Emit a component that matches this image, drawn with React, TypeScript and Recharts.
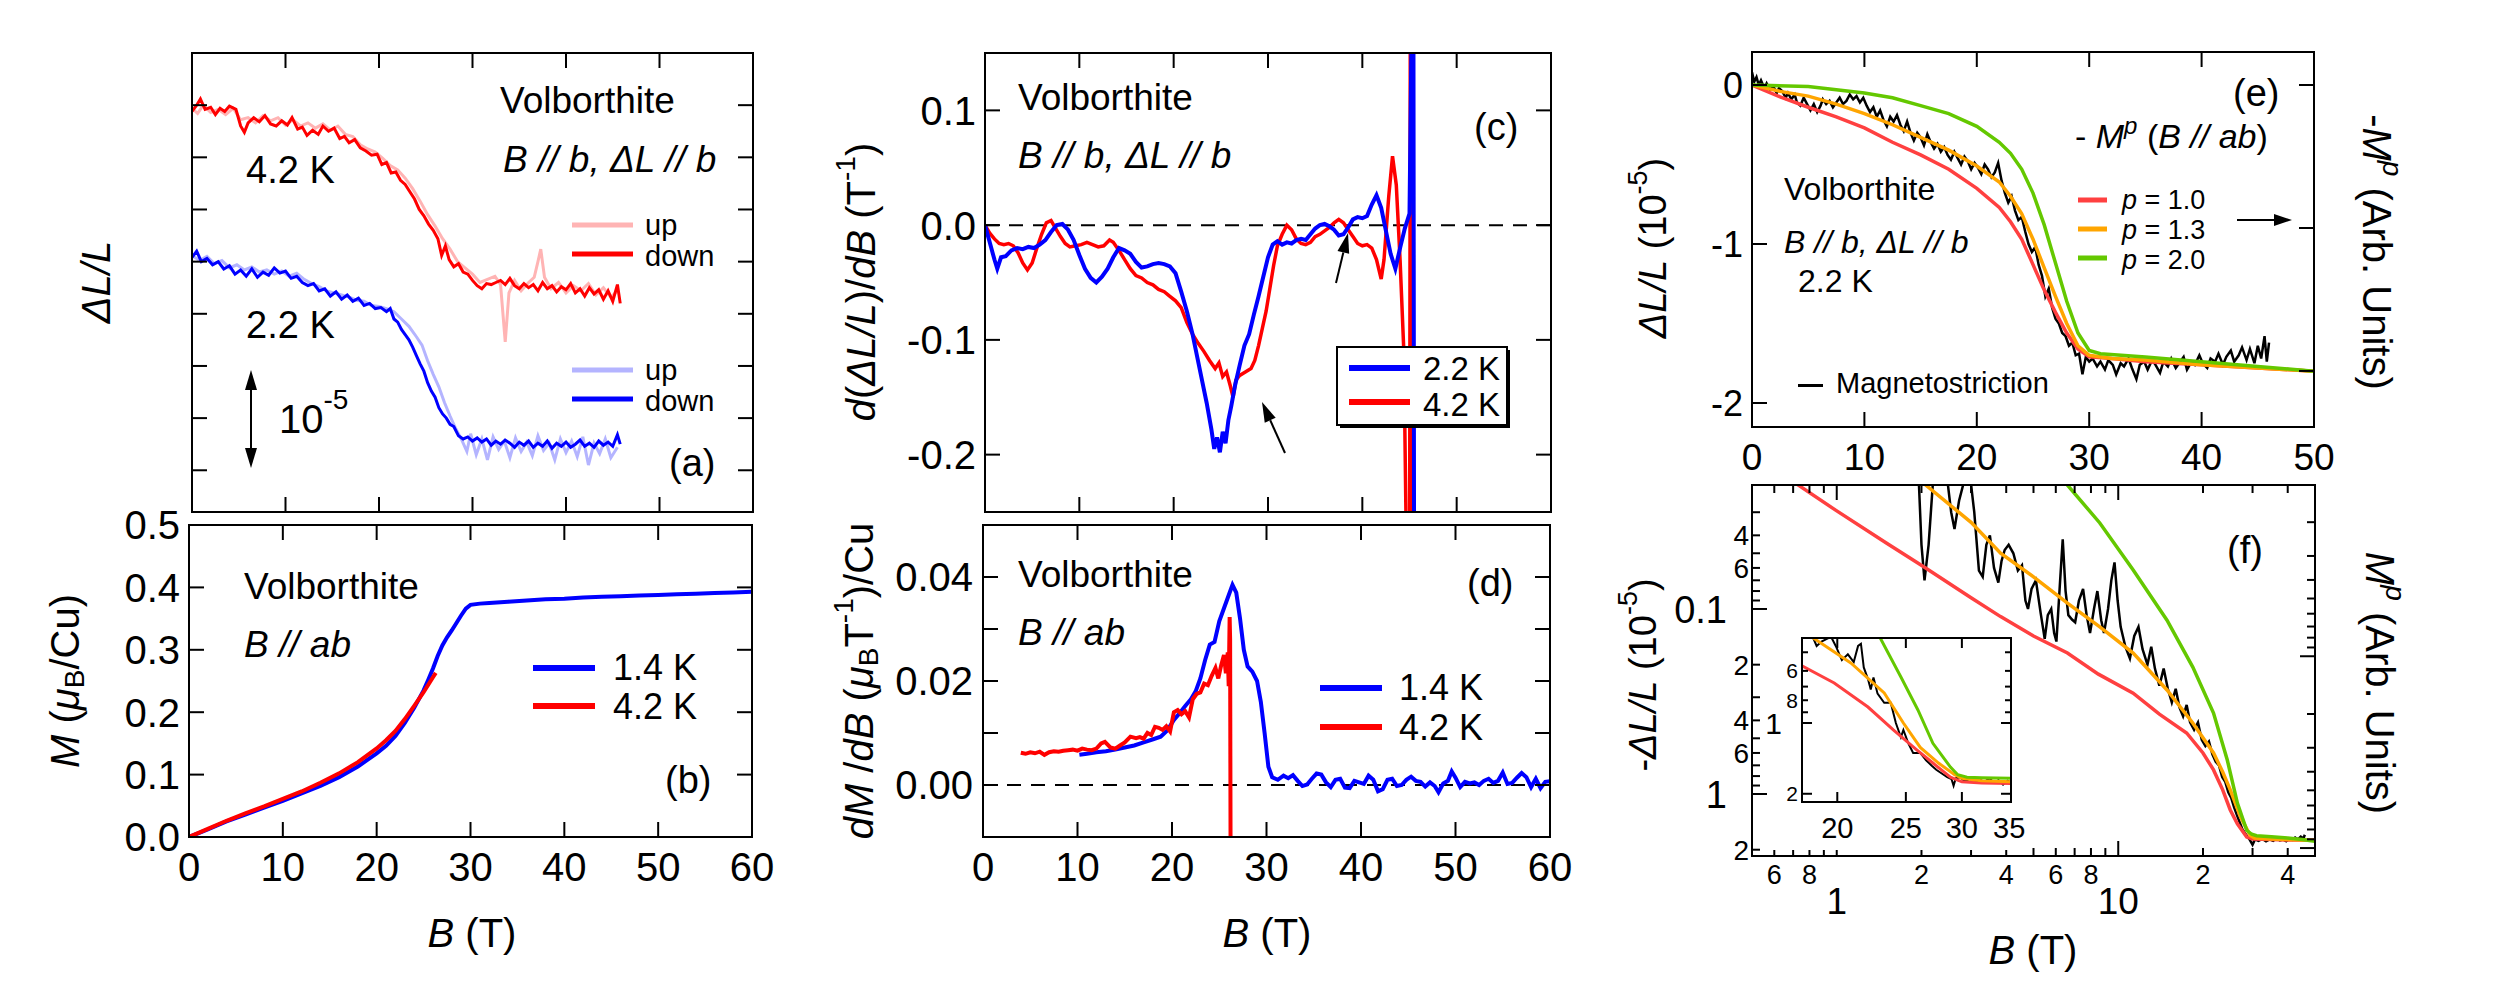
import React from 'react';
import { LineChart, Line, XAxis, YAxis, ReferenceLine } from 'recharts';

const FONT = '"Liberation Sans", Arial, Helvetica, sans-serif';

const RED = '#ff0000';
const BLUE = '#0000ff';
const LRED = '#ffb4b4';
const LBLUE = '#b4b4ff';
const FRED = '#ff4040';
const ORANGE = '#ffa500';
const GREEN = '#64c800';

// ---------- (a) magnetostriction, B // b, offset curves (units of 1e-5) ----------
const aRedUp = [[0,3.47],[0.6,3.42],[1.2,3.5],[2,3.43],[2.8,3.46],[3.6,3.41],[4.4,3.47],[5.2,3.36],[6,3.38],[6.8,3.33],[7.6,3.4],[8.4,3.35],[9.2,3.38],[10,3.31],[10.8,3.36],[11.6,3.3],[12.4,3.33],[13.2,3.28],[14,3.32],[14.8,3.26],[15.6,3.3],[16.4,3.22],[17.2,3.2],[18,3.12],[18.8,3.08],[19.6,3.05],[20.4,2.99],[21.2,2.92],[22,2.88],[22.8,2.8],[23.6,2.7],[24.4,2.58],[25.2,2.45],[26,2.34],[26.8,2.22],[27.6,2.12],[28.4,2.0],[29.2,1.94],[30,1.88],[30.8,1.8],[31.6,1.83],[32.4,1.86],[33,1.78],[33.5,1.23],[33.9,1.7],[34.5,1.82],[35.2,1.72],[36,1.8],[36.6,1.85],[37,2.0],[37.3,2.12],[37.7,1.85],[38.4,1.74],[39.2,1.8],[40,1.7],[40.8,1.77],[41.6,1.72],[42.4,1.79],[43.2,1.68],[44,1.75],[44.8,1.66],[45.5,1.72]];
const aRedDown = [[0,3.44],[0.5,3.5],[0.9,3.56],[1.4,3.46],[2,3.48],[2.5,3.41],[3,3.47],[3.5,3.44],[4,3.49],[4.7,3.46],[5.2,3.3],[5.6,3.24],[6,3.33],[6.6,3.38],[7.2,3.34],[7.8,3.4],[8.4,3.32],[9,3.3],[9.6,3.35],[10.2,3.31],[10.7,3.38],[11.3,3.27],[11.8,3.29],[12.3,3.21],[12.9,3.26],[13.5,3.22],[14,3.3],[14.6,3.25],[15.2,3.28],[15.8,3.18],[16.3,3.2],[16.8,3.14],[17.4,3.17],[18,3.09],[18.6,3.06],[19.2,3.02],[19.8,3.03],[20.3,2.93],[20.8,2.95],[21.3,2.85],[21.8,2.86],[22.3,2.78],[22.8,2.74],[23.3,2.67],[23.8,2.6],[24.3,2.5],[24.8,2.44],[25.3,2.36],[25.8,2.3],[26.3,2.22],[26.7,2.06],[27.1,2.15],[27.5,2.02],[28,1.95],[28.5,1.98],[29,1.9],[29.5,1.88],[30,1.82],[30.5,1.77],[31,1.74],[31.5,1.79],[32,1.78],[32.5,1.8],[33,1.82],[33.5,1.78],[34,1.84],[34.5,1.77],[35,1.74],[35.5,1.79],[36,1.75],[36.5,1.78],[37,1.72],[37.5,1.8],[38,1.74],[38.5,1.77],[39,1.71],[39.5,1.76],[40,1.73],[40.5,1.79],[41,1.7],[41.5,1.74],[42,1.67],[42.5,1.75],[43,1.69],[43.5,1.73],[44,1.64],[44.5,1.72],[45,1.62],[45.5,1.78],[45.8,1.6]];
const aBlueUp = [[0,2.06],[0.8,2.01],[1.6,2.05],[2.4,1.98],[3.2,2.01],[4,1.94],[4.8,1.97],[5.6,1.92],[6.4,1.95],[7.2,1.9],[8,1.92],[8.8,1.88],[9.6,1.91],[10.4,1.86],[11.2,1.89],[12,1.83],[12.8,1.79],[13.6,1.76],[14.4,1.72],[15.2,1.7],[16,1.68],[16.8,1.66],[17.6,1.63],[18.4,1.62],[19.2,1.58],[20,1.57],[20.8,1.55],[21.6,1.52],[22.4,1.45],[23.2,1.38],[24,1.28],[24.6,1.2],[25.2,1.05],[25.8,0.92],[26.4,0.8],[27,0.65],[27.6,0.52],[28.2,0.4],[28.8,0.3],[29.4,0.18],[29.8,0.35],[30.4,0.15],[31,0.3],[31.6,0.1],[32.2,0.32],[32.8,0.2],[33.4,0.28],[34,0.12],[34.6,0.31],[35.2,0.18],[35.8,0.27],[36.4,0.14],[37,0.33],[37.6,0.19],[38.2,0.26],[38.8,0.1],[39.4,0.3],[40,0.17],[40.6,0.28],[41.2,0.13],[41.8,0.32],[42.4,0.05],[43,0.26],[43.6,0.16],[44.2,0.3],[44.8,0.12],[45.5,0.22]];
const aBlueDown = [[0,2.04],[0.5,2.1],[1,2.0],[1.6,2.03],[2.2,1.97],[2.8,2.0],[3.4,1.93],[4,1.96],[4.6,1.88],[5.2,1.92],[5.8,1.86],[6.4,1.93],[7,1.85],[7.6,1.9],[8.2,1.87],[8.8,1.94],[9.4,1.89],[10,1.91],[10.6,1.84],[11.2,1.86],[11.8,1.8],[12.4,1.77],[13,1.79],[13.6,1.72],[14.2,1.74],[14.8,1.67],[15.4,1.71],[16,1.64],[16.6,1.68],[17.2,1.62],[17.8,1.65],[18.4,1.58],[19,1.6],[19.6,1.55],[20.2,1.56],[20.8,1.52],[21.2,1.55],[21.6,1.45],[22,1.42],[22.4,1.35],[22.8,1.3],[23.2,1.25],[23.6,1.18],[24,1.1],[24.4,1.02],[24.8,0.95],[25.2,0.84],[25.6,0.76],[26,0.7],[26.4,0.6],[26.8,0.54],[27.2,0.5],[27.6,0.44],[28,0.42],[28.5,0.33],[29,0.3],[29.5,0.32],[30,0.28],[30.5,0.31],[31,0.27],[31.5,0.3],[32,0.24],[32.5,0.28],[33,0.25],[33.5,0.29],[34,0.26],[34.5,0.22],[35,0.27],[35.5,0.24],[36,0.28],[36.5,0.22],[37,0.26],[37.5,0.23],[38,0.28],[38.5,0.21],[39,0.26],[39.5,0.23],[40,0.27],[40.5,0.22],[41,0.25],[41.5,0.29],[42,0.23],[42.5,0.26],[43,0.22],[43.5,0.28],[44,0.24],[44.5,0.27],[45,0.23],[45.5,0.34],[45.8,0.25]];

// ---------- (b) magnetization M (muB/Cu), B // ab ----------
const bBlue = [[0,0],[2,0.012],[4,0.025],[6,0.036],[8,0.047],[10,0.058],[12,0.07],[14,0.082],[16,0.096],[18,0.113],[20,0.134],[21,0.146],[22,0.162],[23,0.183],[24,0.207],[25,0.235],[25.5,0.252],[26,0.27],[26.5,0.29],[27,0.307],[27.5,0.32],[28,0.331],[28.5,0.343],[29,0.355],[29.5,0.366],[30,0.372],[31,0.374],[32,0.375],[34,0.377],[36,0.379],[38,0.381],[40,0.382],[42,0.384],[44,0.385],[46,0.386],[48,0.387],[50,0.388],[52,0.389],[54,0.39],[56,0.391],[58,0.392],[60,0.393]];
const bRed = [[0,0],[2,0.013],[4,0.026],[6,0.038],[8,0.049],[10,0.061],[12,0.073],[14,0.087],[16,0.102],[18,0.12],[20,0.142],[21,0.155],[22,0.17],[23,0.189],[24,0.21],[25,0.232],[25.5,0.244],[26,0.256],[26.3,0.263]];

// ---------- (c) d(dL/L)/dB (1/T) ----------
const cRed = [[0,0],[0.5,-0.007],[1,-0.012],[1.5,-0.016],[2,-0.017],[2.5,-0.016],[3,-0.018],[3.5,-0.024],[4,-0.033],[4.5,-0.039],[5,-0.033],[5.5,-0.02],[6,-0.008],[6.5,0.002],[7,0.004],[7.5,-0.003],[8,-0.01],[8.5,-0.016],[9,-0.019],[9.6,-0.018],[10.2,-0.017],[10.8,-0.015],[11.4,-0.017],[12,-0.019],[12.6,-0.018],[13.2,-0.013],[13.6,-0.015],[14.2,-0.022],[14.8,-0.03],[15.4,-0.038],[16,-0.044],[16.6,-0.046],[17.2,-0.05],[17.8,-0.052],[18.4,-0.056],[19,-0.058],[19.6,-0.062],[20.2,-0.066],[20.8,-0.072],[21.4,-0.085],[22,-0.095],[22.6,-0.103],[23.2,-0.11],[23.8,-0.118],[24.4,-0.125],[24.8,-0.12],[25.2,-0.132],[25.6,-0.128],[26,-0.14],[26.3,-0.15],[26.6,-0.135],[27,-0.131],[27.6,-0.128],[28.2,-0.125],[28.6,-0.118],[29,-0.105],[29.4,-0.09],[29.8,-0.075],[30.2,-0.055],[30.6,-0.035],[31,-0.018],[31.5,-0.008],[32,0],[32.5,-0.004],[33,-0.012],[33.5,-0.016],[34,-0.017],[34.5,-0.015],[35,-0.01],[35.5,-0.008],[36,-0.005],[36.5,-0.002],[37,0.002],[37.5,0.005],[38,0.002],[38.5,-0.004],[39,-0.01],[39.5,-0.016],[40,-0.018],[40.5,-0.017],[41,-0.02],[41.5,-0.03],[42,-0.047],[42.3,-0.03],[42.8,0.025],[43.2,0.06],[43.6,0.035],[44,-0.03],[44.4,-0.11],[44.7,-0.3],[45,-0.4],[45.1,0.3],[45.2,-0.4]];
const cBlue = [[0,0],[0.5,-0.015],[1,-0.03],[1.3,-0.038],[1.7,-0.028],[2.2,-0.027],[2.8,-0.022],[3.4,-0.02],[4,-0.021],[4.6,-0.019],[5.2,-0.02],[5.8,-0.017],[6.4,-0.013],[7,-0.006],[7.6,0],[8.2,0.001],[8.8,-0.004],[9.4,-0.013],[10,-0.026],[10.6,-0.038],[11.2,-0.046],[11.8,-0.05],[12.4,-0.045],[13,-0.038],[13.6,-0.028],[14.2,-0.02],[14.8,-0.022],[15.4,-0.025],[16,-0.032],[16.6,-0.037],[17.2,-0.036],[17.8,-0.034],[18.4,-0.033],[19,-0.034],[19.6,-0.036],[20.2,-0.042],[20.8,-0.058],[21.4,-0.075],[22,-0.095],[22.5,-0.115],[23,-0.135],[23.5,-0.155],[24,-0.178],[24.3,-0.195],[24.6,-0.185],[24.9,-0.198],[25.2,-0.18],[25.5,-0.19],[25.8,-0.17],[26.1,-0.158],[26.5,-0.14],[27,-0.122],[27.5,-0.105],[28,-0.095],[28.5,-0.078],[29,-0.062],[29.5,-0.045],[30,-0.028],[30.5,-0.017],[31,-0.014],[31.5,-0.017],[32,-0.015],[32.5,-0.016],[33,-0.013],[33.5,-0.012],[34,-0.013],[34.5,-0.008],[35,-0.003],[35.5,0],[36,0.001],[36.5,-0.001],[37,-0.004],[37.5,-0.009],[38,-0.008],[38.5,-0.002],[39,0.005],[39.5,0.007],[40,0.006],[40.5,0.008],[41,0.018],[41.5,0.026],[42,0.015],[42.5,-0.005],[43,-0.025],[43.5,-0.038],[44,-0.02],[44.5,-0.003],[45,0.01],[45.4,0.3],[45.5,-0.4]];

// ---------- (d) dM/dB ----------
const dBlue = [[10.2,0.0058],[11,0.006],[12,0.0063],[13,0.0065],[14,0.0068],[15,0.0072],[16,0.0076],[17,0.0082],[18,0.0088],[18.8,0.0093],[19.5,0.0105],[20.2,0.0125],[20.8,0.0138],[21.4,0.0152],[22,0.0165],[22.5,0.018],[23,0.0205],[23.5,0.024],[24,0.027],[24.5,0.0275],[25,0.0315],[25.5,0.034],[26,0.0365],[26.4,0.0385],[26.8,0.037],[27.2,0.032],[27.6,0.026],[28,0.0228],[28.5,0.0218],[29,0.02],[29.4,0.016],[29.8,0.01],[30.2,0.0035],[30.6,0.0015],[31.2,0.001],[31.8,0.0018],[32.3,0.0013],[32.8,0.0019],[33.3,0.0008],[33.8,-0.0002],[34.3,0.0001],[34.8,0.0012],[35.3,0.0022],[35.8,0.002],[36.3,0.0005],[36.8,-0.0004],[37.3,0.001],[37.8,0.0012],[38.3,-0.0005],[38.8,-0.0006],[39.3,0.0008],[39.8,0.0005],[40.3,0.0002],[40.8,0.0018],[41.3,0.001],[41.8,-0.0012],[42.3,-0.0008],[42.8,0.001],[43.3,0.0012],[43.8,-0.0002],[44.3,0],[44.8,0.001],[45.3,0.0016],[45.8,0.0008],[46.3,0.0006],[46.8,-0.0003],[47.3,0.0005],[47.8,-0.0002],[48.2,-0.0014],[48.7,0.0003],[49.2,0.0008],[49.6,0.0026],[50,0.0014],[50.5,-0.0004],[51,0.0006],[51.5,0.0003],[52,0.0005],[52.5,0],[53,0.0008],[53.5,0.0012],[54,0.0004],[54.5,0.0008],[55,0.0024],[55.5,0.0002],[56,0.0004],[56.5,0.0014],[57,0.0023],[57.5,0.0015],[58,-0.0004],[58.5,0.0012],[59,-0.0006],[59.5,0.0006],[60,0.0007]];
const dRed = [[4,0.0062],[4.5,0.006],[5,0.0063],[5.5,0.0061],[6,0.0064],[6.5,0.0058],[7,0.0063],[7.5,0.0065],[8,0.0064],[8.5,0.0066],[9,0.0067],[9.5,0.0068],[10,0.0066],[10.5,0.007],[11,0.0068],[11.5,0.0067],[12,0.007],[12.5,0.008],[12.9,0.0083],[13.5,0.0072],[14,0.007],[14.5,0.0076],[15,0.0082],[15.6,0.0093],[16.2,0.009],[16.6,0.0092],[17,0.0089],[17.4,0.01],[17.8,0.0096],[18.2,0.0112],[18.6,0.011],[19,0.0106],[19.4,0.0113],[19.8,0.0103],[20.2,0.014],[20.6,0.0144],[21,0.0136],[21.4,0.0142],[21.8,0.013],[22.2,0.0165],[22.6,0.0175],[23,0.0178],[23.4,0.0195],[23.8,0.0192],[24.2,0.021],[24.6,0.0225],[24.9,0.0205],[25.2,0.023],[25.5,0.025],[25.7,0.0215],[25.9,0.0255],[26,0.019],[26.1,0.0323],[26.15,0.028],[26.2,-0.015]];

// ---------- (e) dL/L (1e-5) at 2.2 K and -M^p fits ----------
const eBlack = [[0,0.08],[0.2,0.02],[0.4,0.05],[0.6,0],[0.8,0.03],[1.1,-0.02],[1.3,0.01],[1.6,-0.03],[1.9,-0.01],[2.2,-0.05],[2.4,-0.02],[2.7,-0.04],[3,-0.08],[3.2,-0.05],[3.5,-0.09],[3.8,-0.06],[4,-0.11],[4.3,-0.13],[4.6,-0.08],[4.9,-0.12],[5.2,-0.16],[5.5,-0.12],[5.8,-0.17],[6.1,-0.13],[6.3,-0.09],[6.6,-0.12],[6.9,-0.1],[7.2,-0.14],[7.5,-0.11],[7.8,-0.08],[8.1,-0.12],[8.4,-0.1],[8.7,-0.06],[9,-0.09],[9.3,-0.07],[9.6,-0.11],[9.9,-0.08],[10.2,-0.13],[10.5,-0.17],[10.8,-0.14],[11.1,-0.2],[11.4,-0.16],[11.7,-0.22],[12,-0.26],[12.3,-0.2],[12.6,-0.23],[12.9,-0.19],[13.2,-0.25],[13.5,-0.29],[13.8,-0.23],[14.1,-0.3],[14.4,-0.35],[14.7,-0.3],[15,-0.33],[15.3,-0.38],[15.6,-0.31],[15.9,-0.36],[16.2,-0.4],[16.5,-0.37],[16.8,-0.42],[17.1,-0.39],[17.4,-0.44],[17.7,-0.47],[18,-0.42],[18.3,-0.46],[18.6,-0.5],[18.9,-0.45],[19.2,-0.48],[19.5,-0.53],[19.8,-0.49],[20.1,-0.52],[20.4,-0.56],[20.7,-0.5],[21,-0.53],[21.3,-0.58],[21.6,-0.55],[21.9,-0.49],[22.2,-0.6],[22.5,-0.68],[22.8,-0.74],[23.1,-0.7],[23.4,-0.79],[23.7,-0.85],[24,-0.83],[24.3,-0.92],[24.6,-1.0],[24.9,-1.05],[25.2,-1.02],[25.5,-1.13],[25.8,-1.2],[26.1,-1.33],[26.4,-1.28],[26.7,-1.4],[27,-1.47],[27.3,-1.5],[27.6,-1.56],[27.9,-1.58],[28.2,-1.64],[28.5,-1.62],[28.8,-1.7],[29.1,-1.69],[29.4,-1.82],[29.7,-1.71],[30,-1.74],[30.3,-1.72],[30.7,-1.77],[31,-1.74],[31.4,-1.79],[31.7,-1.73],[32.1,-1.76],[32.4,-1.82],[32.8,-1.75],[33.1,-1.77],[33.5,-1.72],[33.8,-1.78],[34.2,-1.85],[34.5,-1.76],[34.9,-1.74],[35.2,-1.79],[35.6,-1.73],[35.9,-1.76],[36.3,-1.81],[36.6,-1.74],[37,-1.77],[37.3,-1.72],[37.7,-1.78],[38,-1.75],[38.4,-1.71],[38.7,-1.79],[39.1,-1.74],[39.4,-1.76],[39.8,-1.7],[40.1,-1.75],[40.5,-1.78],[40.8,-1.72],[41.2,-1.74],[41.5,-1.69],[41.9,-1.76],[42.2,-1.71],[42.6,-1.67],[42.9,-1.74],[43.3,-1.7],[43.6,-1.65],[44,-1.73],[44.3,-1.66],[44.7,-1.75],[45,-1.64],[45.3,-1.72],[45.6,-1.58],[45.8,-1.74],[46,-1.62]];
const eP10 = [[0,0],[2.5,-0.075],[5,-0.14],[7.5,-0.2],[10,-0.27],[12.5,-0.36],[15,-0.44],[17.5,-0.53],[20,-0.65],[22,-0.77],[23,-0.86],[24,-0.97],[25,-1.13],[26,-1.29],[27,-1.43],[28,-1.56],[29,-1.66],[30,-1.71],[32,-1.72],[35,-1.74],[40,-1.76],[45,-1.78],[50,-1.8]];
const eP13 = [[0,0],[2.5,-0.04],[5,-0.07],[7.5,-0.12],[10,-0.18],[12.5,-0.25],[15,-0.33],[17.5,-0.41],[20,-0.51],[22,-0.61],[23,-0.7],[24,-0.81],[25,-0.97],[26,-1.15],[27,-1.33],[28,-1.5],[29,-1.64],[30,-1.7],[32,-1.72],[35,-1.73],[40,-1.76],[45,-1.78],[50,-1.8]];
const eP20 = [[0,0],[5,-0.01],[7.5,-0.03],[10,-0.05],[12.5,-0.08],[15,-0.13],[17.5,-0.18],[20,-0.26],[22,-0.36],[23,-0.43],[24,-0.53],[25,-0.68],[26,-0.88],[27,-1.12],[28,-1.36],[29,-1.56],[30,-1.67],[31,-1.69],[35,-1.71],[40,-1.74],[45,-1.77],[50,-1.8]];

// ---------- (f) log-log: -dL/L and M^p ----------
const fBlack = [[1.95,0.018],[2,0.045],[2.05,0.07],[2.12,0.045],[2.2,0.02],[2.3,0.016],[2.45,0.018],[2.55,0.03],[2.62,0.037],[2.72,0.026],[2.82,0.021],[2.95,0.017],[3.08,0.03],[3.2,0.062],[3.3,0.067],[3.4,0.045],[3.5,0.04],[3.62,0.06],[3.75,0.072],[3.85,0.055],[3.95,0.048],[4.08,0.045],[4.24,0.05],[4.4,0.062],[4.55,0.058],[4.68,0.09],[4.78,0.1],[4.92,0.078],[5.1,0.07],[5.3,0.105],[5.48,0.145],[5.62,0.108],[5.78,0.1],[5.92,0.135],[6.03,0.15],[6.2,0.075],[6.35,0.042],[6.5,0.08],[6.65,0.108],[6.85,0.114],[7.03,0.118],[7.25,0.09],[7.5,0.078],[7.72,0.108],[7.94,0.135],[8.2,0.1],[8.43,0.08],[8.7,0.115],[8.9,0.135],[9.2,0.1],[9.45,0.07],[9.7,0.056],[9.95,0.09],[10.2,0.125],[10.6,0.16],[11,0.185],[11.4,0.14],[11.8,0.125],[12.2,0.165],[12.7,0.2],[13.1,0.16],[13.5,0.21],[14,0.26],[14.5,0.21],[15,0.27],[15.5,0.32],[16,0.27],[16.5,0.34],[17,0.38],[17.5,0.33],[18,0.41],[18.6,0.45],[19.2,0.41],[19.8,0.51],[20.4,0.55],[21,0.52],[21.6,0.61],[22.2,0.67],[22.8,0.7],[23.4,0.81],[24,0.86],[24.6,0.98],[25.2,1.05],[25.8,1.18],[26.4,1.3],[27,1.42],[27.6,1.55],[28.2,1.63],[28.8,1.7],[29.4,1.78],[30,1.88],[30.6,1.76],[31.5,1.79],[32.5,1.75],[33.5,1.8],[34.5,1.76],[35.5,1.79],[36.5,1.74],[37.5,1.78],[38.5,1.76],[39.5,1.8],[40.5,1.74],[41.5,1.77],[42.5,1.72],[43.5,1.76],[44.5,1.7],[45.5,1.74],[46,1.66]];
const fP10 = [[0.6,0.0176],[0.73,0.0214],[1,0.0295],[1.5,0.044],[2.03,0.059],[3,0.087],[3.82,0.11],[5,0.14],[6.6,0.173],[8.5,0.225],[11.3,0.285],[14,0.37],[17.5,0.468],[20,0.6],[21.8,0.741],[23.5,0.95],[25,1.22],[26.5,1.45],[28.6,1.71],[30,1.75],[35,1.76],[40,1.77],[45,1.77],[50,1.78]];
const fP13 = [[1.8,0.017],[2.07,0.0214],[3,0.034],[3.82,0.05],[5,0.067],[6.6,0.093],[8.6,0.125],[11.3,0.173],[14.9,0.274],[18.4,0.413],[21.8,0.6],[23.5,0.76],[25,0.95],[27.2,1.33],[29.4,1.67],[30.5,1.73],[35,1.75],[40,1.76],[45,1.77],[50,1.78]];
const fP20 = [[6,0.018],[6.6,0.0214],[8.6,0.0343],[11.3,0.0615],[14.9,0.115],[18.4,0.206],[21.8,0.365],[24.4,0.655],[26.5,1.12],[28.6,1.57],[29.8,1.65],[31,1.68],[35,1.7],[40,1.73],[45,1.76],[50,1.8]];

// inset of (f)
const iBlack = [[18.4,0.42],[18.7,0.47],[19,0.45],[19.3,0.44],[19.6,0.43],[19.9,0.47],[20.3,0.54],[20.7,0.51],[21.1,0.55],[21.4,0.47],[21.6,0.46],[21.8,0.58],[22.1,0.65],[22.3,0.72],[22.5,0.64],[22.8,0.75],[23.3,0.82],[23.8,0.82],[24.2,1.0],[24.6,1.15],[24.8,1.07],[25.2,1.22],[25.6,1.34],[26.2,1.34],[26.7,1.44],[27.2,1.52],[27.6,1.58],[28.1,1.64],[28.6,1.7],[29,1.73],[29.2,1.85],[29.4,1.72],[29.8,1.7],[30.3,1.77],[30.8,1.73],[31.3,1.79],[31.8,1.74],[32.3,1.78],[32.8,1.72],[33.3,1.79],[33.8,1.75],[34.3,1.83],[34.8,1.76],[35.2,1.79]];
const iP10 = [[17.8,0.57],[19.8,0.676],[22.1,0.855],[24,1.07],[25.9,1.3],[27.3,1.48],[28.9,1.7],[30,1.78],[32,1.8],[35.5,1.81]];
const iP13 = [[18.3,0.425],[18.5,0.435],[20.9,0.555],[23.3,0.745],[24.8,1.0],[26.2,1.27],[27.8,1.48],[29.3,1.66],[30,1.72],[32,1.76],[35.5,1.78]];
const iP20 = [[22.8,0.42],[23,0.435],[24.6,0.637],[26,0.88],[27.3,1.22],[28.9,1.54],[29.6,1.66],[30.5,1.7],[32,1.71],[35.5,1.72]];

// tick values
const linB60 = [0, 10, 20, 30, 40, 50, 60];
const linB50 = [0, 10, 20, 30, 40, 50];
const aTicks = [0, 0.5, 1, 1.5, 2, 2.5, 3, 3.5];
const bTicks = [0, 0.1, 0.2, 0.3, 0.4, 0.5];
const cTicks = [-0.2, -0.1, 0, 0.1];
const dTicks = [-0.01, 0, 0.01, 0.02, 0.03, 0.04, 0.05];
const eTicks = [-2, -1, 0];
const fXTicks = [0.5, 0.6, 0.7, 0.8, 0.9, 1, 2, 3, 4, 5, 6, 7, 8, 9, 10, 20, 30, 40, 50];
const fYTicks = [0.03, 0.04, 0.05, 0.06, 0.07, 0.08, 0.09, 0.1, 0.2, 0.3, 0.4, 0.5, 0.6, 0.7, 0.8, 0.9, 1, 2];
const fY2Ticks = [0.2, 0.3, 0.4, 0.5, 0.6, 0.7, 0.8, 0.9, 1, 2, 3, 4, 5, 6, 7, 8, 9, 10];
const fXLabels: Record<string, string> = { '0.6': '6', '0.8': '8', '1': '1', '2': '2', '4': '4', '6': '6', '8': '8', '10': '10', '20': '2', '40': '4' };
const fYLabels: Record<string, string> = { '0.04': '4', '0.06': '6', '0.1': '0.1', '0.2': '2', '0.4': '4', '0.6': '6', '1': '1', '2': '2' };
const iXTicks = [20, 25, 30, 35];
const iYTicks = [0.5, 0.6, 0.7, 0.8, 0.9, 1, 2];
const iYLabels: Record<string, string> = { '0.6': '6', '0.8': '8', '1': '1', '2': '2' };
const dLabels: Record<string, string> = { '0': '0.00', '0.02': '0.02', '0.04': '0.04' };

// ---------- layout (page px) ----------
const FA = [192, 53, 753, 512];
const FB = [189, 525, 752, 837];
const FC = [985, 53, 1551, 512];
const FD = [983, 525, 1550, 837];
const FE = [1752, 52, 2314, 427];
const FF = [1752, 485, 2315, 856];
const FI = [1802, 638, 2011, 802];

type Axis = {
  domain: number[];
  ticks: number[];
  log?: boolean;
  reversed?: boolean;
  len: (v: number) => number;
  label?: (v: number) => string;
  fs?: (v: number) => number;
  gap?: (v: number) => number;
};

const mkTick = (side: string, edge: number, far: number | null, c: Axis) => (p: any) => {
  const v = p.payload.value;
  const len = c.len(v);
  const lab = c.label ? c.label(v) : '';
  const fs = c.fs ? c.fs(v) : 40;
  const gap = c.gap ? c.gap(v) : 10;
  if (side === 'bottom') {
    return (
      <g>
        {len > 0 && <line x1={p.x} x2={p.x} y1={edge} y2={edge - len} stroke="#000" strokeWidth={2} />}
        {len > 0 && far !== null && <line x1={p.x} x2={p.x} y1={far} y2={far + len} stroke="#000" strokeWidth={2} />}
        {lab ? (
          <text x={p.x} y={edge + gap + fs * 0.72} textAnchor="middle" fontSize={fs} fontFamily={FONT} fill="#000">{lab}</text>
        ) : null}
      </g>
    );
  }
  const dir = side === 'left' ? 1 : -1;
  return (
    <g>
      {len > 0 && <line x1={edge} x2={edge + dir * len} y1={p.y} y2={p.y} stroke="#000" strokeWidth={2} />}
      {len > 0 && far !== null && <line x1={far} x2={far - dir * len} y1={p.y} y2={p.y} stroke="#000" strokeWidth={2} />}
      {lab ? (
        <text x={edge - dir * gap} y={p.y + fs * 0.36} textAnchor={side === 'left' ? 'end' : 'start'} fontSize={fs} fontFamily={FONT} fill="#000">{lab}</text>
      ) : null}
    </g>
  );
};

type Series = { data: number[][]; color: string; width: number };

function Panel(props: { frame: number[]; pad: number[]; x: Axis; y: Axis; y2?: Axis; series: Series[]; zero?: boolean }) {
  const [x0, y0, x1, y1] = props.frame;
  const [l, r, t, b] = props.pad;
  const W = x1 - x0;
  const H = y1 - y0;
  const width = W + l + r;
  const height = H + t + b;
  const { x, y, y2 } = props;
  return (
    <div style={{ position: 'absolute', left: x0 - l, top: y0 - t, width, height }}>
      <LineChart width={width} height={height} margin={{ top: t, right: y2 ? 0 : r, bottom: 0, left: 0 }}>
        <XAxis
          xAxisId="x"
          type="number"
          dataKey="x"
          domain={x.domain}
          scale={x.log ? 'log' : 'linear'}
          ticks={x.ticks}
          allowDataOverflow
          interval={0}
          height={b}
          axisLine={false}
          tickLine={false}
          tick={mkTick('bottom', t + H, t, x)}
        />
        <YAxis
          yAxisId="y"
          type="number"
          domain={y.domain}
          scale={y.log ? 'log' : 'linear'}
          reversed={y.reversed}
          ticks={y.ticks}
          allowDataOverflow
          interval={0}
          width={l}
          axisLine={false}
          tickLine={false}
          tick={mkTick('left', l, y2 ? null : l + W, y)}
        />
        {y2 && (
          <YAxis
            yAxisId="r"
            orientation="right"
            type="number"
            domain={y2.domain}
            scale={y2.log ? 'log' : 'linear'}
            reversed={y2.reversed}
            ticks={y2.ticks}
            allowDataOverflow
            interval={0}
            width={r}
            axisLine={false}
            tickLine={false}
            tick={mkTick('right', l + W, null, y2)}
          />
        )}
        {props.zero && <ReferenceLine xAxisId="x" yAxisId="y" y={0} stroke="#000" strokeWidth={2} strokeDasharray="14 10" />}
        {props.series.map((s, i) => (
          <Line
            key={i}
            xAxisId="x"
            yAxisId="y"
            data={s.data.map(([bx, v]) => ({ x: bx, y: v }))}
            dataKey="y"
            type="linear"
            stroke={s.color}
            strokeWidth={s.width}
            dot={false}
            activeDot={false}
            isAnimationActive={false}
          />
        ))}
      </LineChart>
    </div>
  );
}

const PAD = [130, 40, 30, 110];
const none = () => 15;
const f40 = () => 40;

const Arrow = ({ x1, y1, x2, y2, head = 20, hw = 6 }: any) => {
  const dx = x2 - x1;
  const dy = y2 - y1;
  const n = Math.hypot(dx, dy);
  const ux = dx / n;
  const uy = dy / n;
  const bx = x2 - ux * head;
  const by = y2 - uy * head;
  return (
    <g>
      <line x1={x1} y1={y1} x2={bx} y2={by} stroke="#000" strokeWidth={2} />
      <polygon points={`${x2},${y2} ${bx - uy * hw},${by + ux * hw} ${bx + uy * hw},${by - ux * hw}`} fill="#000" />
    </g>
  );
};

const Sw = ({ x, y, w, color, h = 6 }: any) => <rect x={x} y={y - h / 2} width={w} height={h} fill={color} />;

function Overlay() {
  const frames = [FA, FB, FC, FD, FE, FF, FI];
  return (
    <svg width={2517} height={988} style={{ position: 'absolute', left: 0, top: 0 }} fontFamily={FONT} fill="#000">
      {frames.map((f, i) => (
        <rect key={i} x={f[0]} y={f[1]} width={f[2] - f[0]} height={f[3] - f[1]} fill="none" stroke="#000" strokeWidth={2} />
      ))}

      {/* (a) */}
      <text x={96} y={282} fontSize={40} fontStyle="italic" textAnchor="middle" dominantBaseline="central" transform="rotate(-90 96 282)">ΔL/L</text>
      <text x={500} y={113} fontSize={37}>Volborthite</text>
      <text x={503} y={172} fontSize={37} fontStyle="italic">B // b, ΔL // b</text>
      <text x={246} y={183} fontSize={38}>4.2 K</text>
      <text x={246} y={338} fontSize={38}>2.2 K</text>
      <Sw x={572} y={225} w={61} color={LRED} h={5} />
      <Sw x={572} y={254} w={61} color={RED} h={5} />
      <text x={645} y={235} fontSize={29}>up</text>
      <text x={645} y={266} fontSize={29}>down</text>
      <Sw x={572} y={370} w={61} color={LBLUE} h={5} />
      <Sw x={572} y={399} w={61} color={BLUE} h={5} />
      <text x={645} y={380} fontSize={29}>up</text>
      <text x={645} y={411} fontSize={29}>down</text>
      <Arrow x1={251} y1={420} x2={251} y2={370} />
      <Arrow x1={251} y1={420} x2={251} y2={468} />
      <text x={279} y={433} fontSize={40}>10<tspan dy={-24} fontSize={28}>-5</tspan></text>
      <text x={669} y={476} fontSize={38}>(a)</text>

      {/* (b) */}
      <text x={65} y={681} fontSize={40} textAnchor="middle" dominantBaseline="central" transform="rotate(-90 65 681)">
        <tspan fontStyle="italic">M</tspan>{' ('}<tspan fontStyle="italic">μ</tspan><tspan dy={9} fontSize={28}>B</tspan><tspan dy={-9}>/Cu)</tspan>
      </text>
      <text x={244} y={599} fontSize={37}>Volborthite</text>
      <text x={244} y={657} fontSize={37} fontStyle="italic">B // ab</text>
      <Sw x={533} y={668} w={62} color={BLUE} />
      <Sw x={533} y={706} w={62} color={RED} />
      <text x={613} y={680} fontSize={36}>1.4 K</text>
      <text x={613} y={719} fontSize={36}>4.2 K</text>
      <text x={665} y={793} fontSize={38}>(b)</text>
      <text x={472} y={947} fontSize={40} textAnchor="middle"><tspan fontStyle="italic">B</tspan>{' (T)'}</text>

      {/* (c) */}
      <text x={861} y={282} fontSize={40} textAnchor="middle" dominantBaseline="central" transform="rotate(-90 861 282)">
        <tspan fontStyle="italic">d</tspan>(<tspan fontStyle="italic">ΔL/L</tspan>)/<tspan fontStyle="italic">dB</tspan>{' (T'}<tspan dy={-16} fontSize={28}>-1</tspan><tspan dy={16}>)</tspan>
      </text>
      <text x={1018} y={110} fontSize={37}>Volborthite</text>
      <text x={1018} y={168} fontSize={37} fontStyle="italic">B // b, ΔL // b</text>
      <text x={1474} y={140} fontSize={38}>(c)</text>
      <rect x={1340} y={350} width={170} height={78} fill="#000" />
      <rect x={1337} y={347} width={170} height={78} fill="#fff" stroke="#000" strokeWidth={2} />
      <Sw x={1349} y={368} w={61} color={BLUE} />
      <Sw x={1349} y={402} w={61} color={RED} />
      <text x={1423} y={380} fontSize={33}>2.2 K</text>
      <text x={1423} y={416} fontSize={33}>4.2 K</text>
      <Arrow x1={1285} y1={453} x2={1262} y2={402} />
      <Arrow x1={1336} y1={283} x2={1348} y2={233} />

      {/* (d) */}
      <text x={859} y={681} fontSize={40} textAnchor="middle" dominantBaseline="central" transform="rotate(-90 859 681)">
        <tspan fontStyle="italic">dM</tspan>{' /'}<tspan fontStyle="italic">dB</tspan>{' ('}<tspan fontStyle="italic">μ</tspan><tspan dy={9} fontSize={28}>B</tspan><tspan dy={-9}>T</tspan><tspan dy={-16} fontSize={28}>-1</tspan><tspan dy={16}>)/Cu</tspan>
      </text>
      <text x={1018} y={587} fontSize={37}>Volborthite</text>
      <text x={1018} y={645} fontSize={37} fontStyle="italic">B // ab</text>
      <text x={1467} y={596} fontSize={38}>(d)</text>
      <Sw x={1320} y={688} w={62} color={BLUE} />
      <Sw x={1320} y={727} w={62} color={RED} />
      <text x={1399} y={700} fontSize={36}>1.4 K</text>
      <text x={1399} y={740} fontSize={36}>4.2 K</text>
      <text x={1267} y={947} fontSize={40} textAnchor="middle"><tspan fontStyle="italic">B</tspan>{' (T)'}</text>

      {/* (e) */}
      <text x={1653} y={248} fontSize={38} textAnchor="middle" dominantBaseline="central" transform="rotate(-90 1653 248)">
        <tspan fontStyle="italic">ΔL/L</tspan>{' (10'}<tspan dy={-15} fontSize={27}>-5</tspan><tspan dy={15}>)</tspan>
      </text>
      <text x={2377} y={252} fontSize={40} textAnchor="middle" dominantBaseline="central" transform="rotate(90 2377 252)">
        -<tspan fontStyle="italic">M</tspan><tspan dy={-16} fontSize={28} fontStyle="italic">p</tspan><tspan dy={16}>{' (Arb. Units)'}</tspan>
      </text>
      <text x={2075} y={148} fontSize={34}>
        {'- '}<tspan fontStyle="italic">M</tspan><tspan dy={-14} fontSize={24} fontStyle="italic">p</tspan><tspan dy={14}>{' ('}</tspan><tspan fontStyle="italic">B // ab</tspan>)
      </text>
      <Sw x={2078} y={200} w={29} color={FRED} h={5} />
      <Sw x={2078} y={229} w={29} color={ORANGE} h={5} />
      <Sw x={2078} y={258} w={29} color={GREEN} h={5} />
      <text x={2122} y={209} fontSize={27}><tspan fontStyle="italic">p</tspan> = 1.0</text>
      <text x={2122} y={239} fontSize={27}><tspan fontStyle="italic">p</tspan> = 1.3</text>
      <text x={2122} y={269} fontSize={27}><tspan fontStyle="italic">p</tspan> = 2.0</text>
      <Arrow x1={2237} y1={220} x2={2292} y2={220} head={18} />
      <text x={2233} y={106} fontSize={38}>(e)</text>
      <text x={1784} y={200} fontSize={32}>Volborthite</text>
      <text x={1784} y={253} fontSize={32} fontStyle="italic">B // b, ΔL // b</text>
      <text x={1798} y={292} fontSize={32}>2.2 K</text>
      <rect x={1798} y={384} width={25} height={3} fill="#000" />
      <text x={1836} y={393} fontSize={29}>Magnetostriction</text>

      {/* (f) */}
      <text x={1643} y={675} fontSize={38} textAnchor="middle" dominantBaseline="central" transform="rotate(-90 1643 675)">
        -<tspan fontStyle="italic">ΔL/L</tspan>{' (10'}<tspan dy={-15} fontSize={27}>-5</tspan><tspan dy={15}>)</tspan>
      </text>
      <text x={2380} y={683} fontSize={40} textAnchor="middle" dominantBaseline="central" transform="rotate(90 2380 683)">
        <tspan fontStyle="italic">M</tspan><tspan dy={-16} fontSize={28} fontStyle="italic">p</tspan><tspan dy={16}>{' (Arb. Units)'}</tspan>
      </text>
      <text x={2227} y={563} fontSize={38}>(f)</text>
      <text x={2033} y={964} fontSize={40} textAnchor="middle"><tspan fontStyle="italic">B</tspan>{' (T)'}</text>
    </svg>
  );
}

export default function App() {
  return (
    <div style={{ position: 'absolute', left: 0, top: 0, width: 2517, height: 988, background: '#fff', overflow: 'hidden', fontFamily: FONT }}>
      <Panel
        frame={FA}
        pad={PAD}
        x={{ domain: [0, 60], ticks: linB60, len: none }}
        y={{ domain: [-0.4, 4.0], ticks: aTicks, len: none }}
        series={[
          { data: aRedUp, color: LRED, width: 3 },
          { data: aRedDown, color: RED, width: 3 },
          { data: aBlueUp, color: LBLUE, width: 3 },
          { data: aBlueDown, color: BLUE, width: 3 },
        ]}
      />
      <Panel
        frame={FB}
        pad={PAD}
        x={{ domain: [0, 60], ticks: linB60, len: none, label: (v) => String(v), fs: f40, gap: () => 15 }}
        y={{ domain: [0, 0.5], ticks: bTicks, len: none, label: (v) => v.toFixed(1), fs: f40, gap: () => 9 }}
        series={[
          { data: bBlue, color: BLUE, width: 4 },
          { data: bRed, color: RED, width: 4 },
        ]}
      />
      <Panel
        frame={FC}
        pad={PAD}
        zero
        x={{ domain: [0, 60], ticks: linB60, len: none }}
        y={{ domain: [-0.25, 0.15], ticks: cTicks, len: none, label: (v) => v.toFixed(1), fs: f40, gap: () => 9 }}
        series={[
          { data: cRed, color: RED, width: 3.5 },
          { data: cBlue, color: BLUE, width: 4 },
        ]}
      />
      <Panel
        frame={FD}
        pad={PAD}
        zero
        x={{ domain: [0, 60], ticks: linB60, len: none, label: (v) => String(v), fs: f40, gap: () => 15 }}
        y={{ domain: [-0.01, 0.05], ticks: dTicks, len: none, label: (v) => dLabels[String(v)] || '', fs: f40, gap: () => 10 }}
        series={[
          { data: dBlue, color: BLUE, width: 4 },
          { data: dRed, color: RED, width: 4 },
        ]}
      />
      <Panel
        frame={FE}
        pad={PAD}
        x={{ domain: [0, 50], ticks: linB50, len: none, label: (v) => String(v), fs: () => 37, gap: () => 16 }}
        y={{ domain: [-2.151, 0.2075], ticks: eTicks, len: none, label: (v) => String(v), fs: () => 36, gap: () => 9 }}
        y2={{ domain: [-2.392, 0.231], ticks: eTicks, len: none }}
        series={[
          { data: eBlack, color: '#000', width: 2.5 },
          { data: eP10, color: FRED, width: 3.5 },
          { data: eP13, color: ORANGE, width: 3.5 },
          { data: eP20, color: GREEN, width: 3.5 },
        ]}
      />
      <Panel
        frame={FF}
        pad={PAD}
        x={{
          domain: [0.5, 50],
          ticks: fXTicks,
          log: true,
          len: (v) => (v === 1 || v === 10 ? 15 : 8),
          label: (v) => fXLabels[String(v)] || '',
          fs: (v) => (v === 1 || v === 10 ? 37 : 27),
          gap: (v) => (v === 1 || v === 10 ? 31 : 9),
        }}
        y={{
          domain: [0.02138, 2.163],
          ticks: fYTicks,
          log: true,
          reversed: true,
          len: (v) => (v === 0.1 || v === 1 ? 15 : 8),
          label: (v) => fYLabels[String(v)] || '',
          fs: (v) => (v === 0.1 || v === 1 ? 38 : 28),
          gap: (v) => (v === 0.1 || v === 1 ? 25 : 3),
        }}
        y2={{
          domain: [0.128, 11.0],
          ticks: fY2Ticks,
          log: true,
          reversed: true,
          len: (v) => (v === 1 || v === 10 ? 15 : 8),
        }}
        series={[
          { data: fBlack, color: '#000', width: 2.5 },
          { data: fP10, color: FRED, width: 3.5 },
          { data: fP13, color: ORANGE, width: 3.5 },
          { data: fP20, color: GREEN, width: 3.5 },
        ]}
      />
      <div style={{ position: 'absolute', left: 1767, top: 632, width: 246, height: 218, background: '#fff' }} />
      <Panel
        frame={FI}
        pad={[36, 26, 6, 46]}
        x={{
          domain: [17.83, 35.2],
          ticks: iXTicks,
          log: true,
          len: (v) => (v === 35 ? 0 : 10),
          label: (v) => String(v),
          fs: () => 29,
          gap: () => 15,
        }}
        y={{
          domain: [0.4348, 2.168],
          ticks: iYTicks,
          log: true,
          reversed: true,
          len: (v) => (v === 1 || v === 2 ? 10 : 6),
          label: (v) => iYLabels[String(v)] || '',
          fs: (v) => (v === 1 ? 30 : 21),
          gap: (v) => (v === 1 ? 20 : 4),
        }}
        series={[
          { data: iBlack, color: '#000', width: 2 },
          { data: iP10, color: FRED, width: 3 },
          { data: iP13, color: ORANGE, width: 3 },
          { data: iP20, color: GREEN, width: 3 },
        ]}
      />
      <Overlay />
    </div>
  );
}
